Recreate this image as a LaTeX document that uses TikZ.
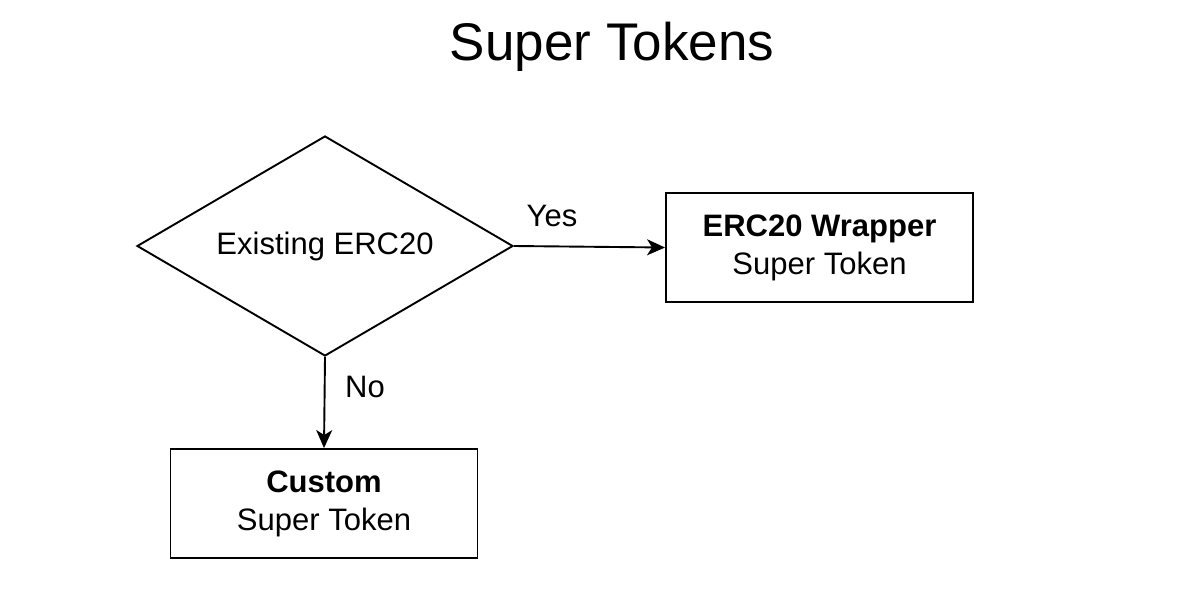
\documentclass[tikz,border=0pt]{standalone}
\usepackage{fontspec}
\setmainfont{Liberation Sans}
\usetikzlibrary{shapes.geometric,arrows.meta}
\begin{document}
\begin{tikzpicture}[x=1pt,y=-1pt,
  lbl/.style={font=\fontsize{31}{38}\selectfont, inner sep=0pt},
  box/.style={draw, line width=1.9pt, minimum width=307pt, minimum height=109pt, align=center, font=\fontsize{31}{38}\selectfont, inner sep=0pt},
  dec/.style={draw, shape=diamond, line width=1.9pt, aspect=1.709, minimum width=376pt, minimum height=220pt, inner sep=0pt, font=\fontsize{31}{38}\selectfont},
  conn/.style={line width=1.9pt, -{Stealth[length=18pt,width=16pt,inset=5pt]}}]
\useasboundingbox (0,0) rectangle (1189,589);
\fill[white] (0,0) rectangle (1189,589);
\node[font=\fontsize{53}{60}\selectfont, inner sep=0pt] (title) at (612,47) {Super Tokens};
\node[dec] (d) at (325,246) {Existing ERC20};
\node[box] (w) at (819.5,247.5) {\textbf{ERC20 Wrapper}\\Super Token};
\node[box] (c) at (324,503.5) {\textbf{Custom}\\Super Token};
\draw[conn] (d.east) -- (w.west);
\draw[conn] (d.south) -- (c.north);
\node[lbl] (yes) at (552,216) {Yes};
\node[lbl] (no) at (365,387) {No};
\end{tikzpicture}
\end{document}
